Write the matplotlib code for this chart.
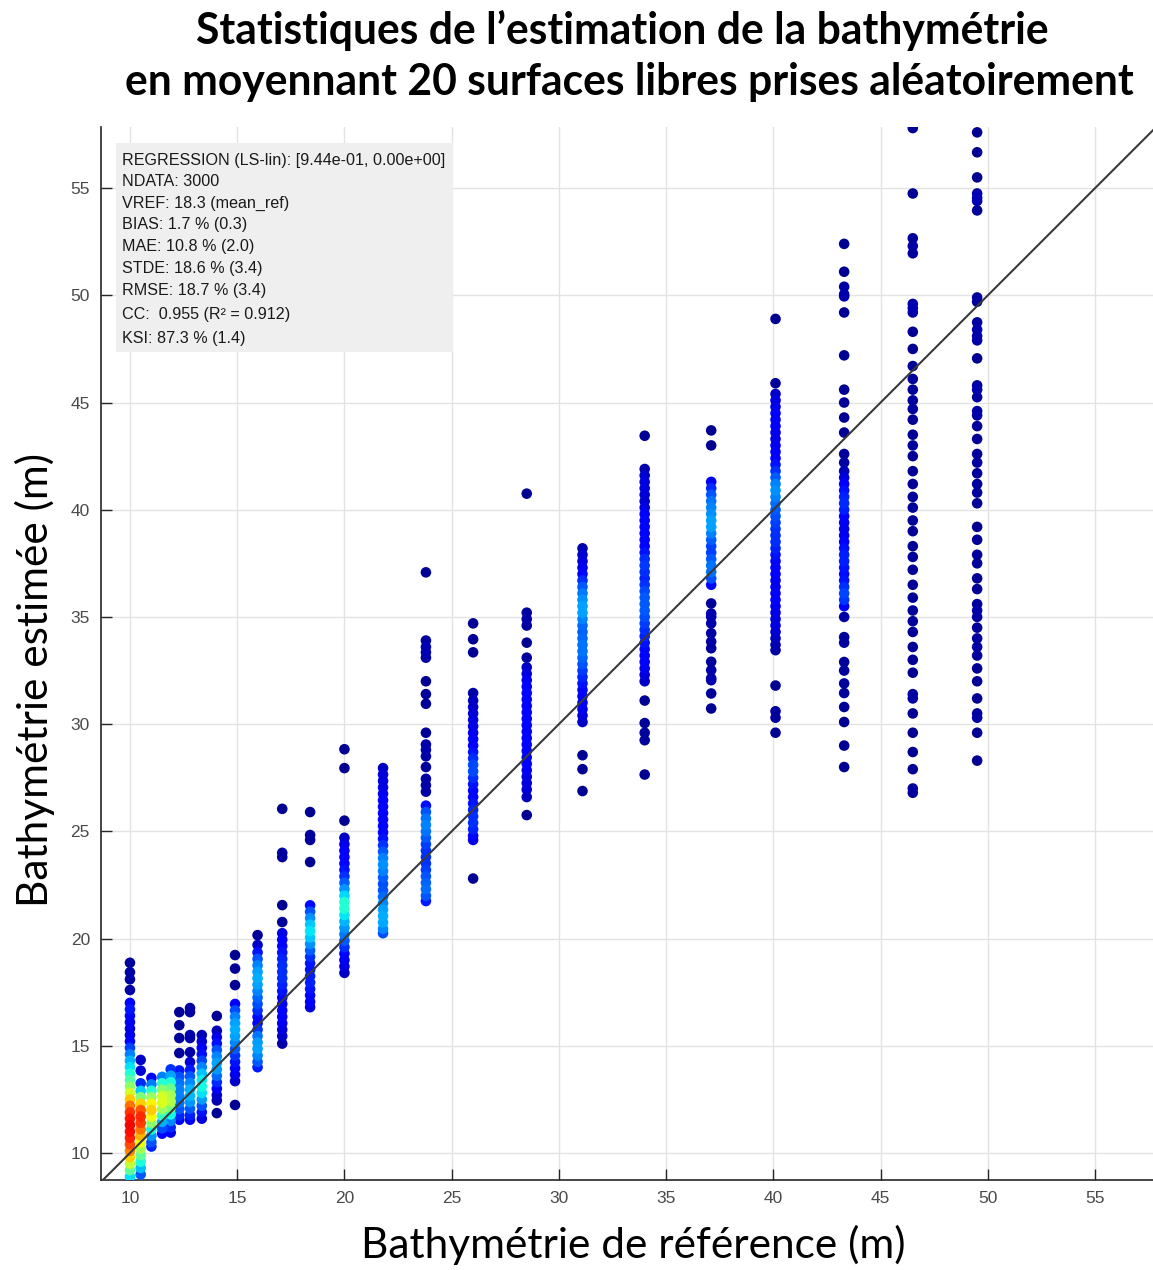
import numpy as np
import matplotlib.pyplot as plt
from matplotlib.patches import Rectangle

# bathymétrie de référence de chaque colonne (m)
ref_depth = [10.0, 10.5, 11.0, 11.5, 11.9, 12.3, 12.8, 13.35, 14.05, 14.9, 15.95,
             17.1, 18.4, 20.0, 21.8, 23.8, 26.0, 28.5, 31.1, 34.0, 37.1, 40.1,
             43.3, 46.5, 49.5]

# (bathymétrie estimée, nombre de tirages) pour chaque colonne
c_10_0 = [(18.87, 1), (18.43, 1), (18.1, 1), (17.6, 1), (17.0, 4), (16.7, 4), (16.4, 3),
          (16.1, 2), (15.8, 2), (15.5, 2), (15.2, 2), (14.9, 5), (14.6, 6), (14.3, 7),
          (14.0, 8), (13.7, 9), (13.4, 10), (13.1, 12), (12.8, 13), (12.5, 15), (12.2, 17),
          (11.9, 18), (11.6, 19), (11.3, 19), (11.0, 19), (10.7, 19), (10.4, 18), (10.1, 17),
          (9.8, 15), (9.5, 13), (9.2, 10), (8.9, 7), (8.7, 5)]
c_10_5 = [(14.34, 1), (13.84, 1), (13.25, 1), (12.9, 5), (12.6, 8), (12.3, 13), (12.0, 16),
          (11.7, 17), (11.4, 16), (11.1, 15), (10.8, 14), (10.5, 12), (10.2, 10), (9.9, 9),
          (9.6, 7), (9.3, 6), (9.0, 5)]
c_11_0 = [(13.5, 1), (13.2, 5), (12.9, 7), (12.6, 10), (12.3, 13), (12.0, 14), (11.7, 13),
          (11.4, 10), (11.1, 5), (10.8, 4), (10.5, 3), (10.3, 2)]
c_11_5 = [(13.55, 5), (13.25, 7), (12.95, 9), (12.65, 11), (12.35, 11), (12.05, 9),
          (11.75, 6), (11.45, 4), (11.15, 3), (10.9, 2)]
c_11_9 = [(13.9, 4), (13.6, 5), (13.3, 6), (13.0, 8), (12.7, 10), (12.4, 11), (12.1, 9),
          (11.8, 6), (11.5, 4), (11.2, 3), (10.95, 1)]
c_12_3 = [(16.57, 1), (15.96, 1), (15.36, 1), (14.66, 1), (13.85, 3), (13.55, 3), (13.25, 3),
          (12.95, 3), (12.65, 2), (12.35, 2), (12.05, 2), (11.75, 2), (11.55, 1)]
c_12_8 = [(16.76, 1), (16.57, 1), (15.5, 1), (15.36, 1), (14.7, 1), (14.24, 1), (13.87, 3),
          (13.57, 4), (13.27, 5), (12.97, 6), (12.67, 7), (12.37, 6), (12.07, 4), (11.77, 3),
          (11.55, 2)]
c_13_35 = [(15.5, 1), (15.2, 2), (14.9, 2), (14.6, 3), (14.3, 4), (14.0, 6), (13.7, 7),
           (13.4, 8), (13.1, 9), (12.8, 8), (12.5, 6), (12.2, 4), (11.9, 3), (11.6, 2)]
c_14_05 = [(16.39, 1), (15.7, 1), (15.4, 2), (15.1, 3), (14.8, 5), (14.5, 6), (14.2, 7),
           (13.9, 7), (13.6, 5), (13.3, 4), (13.0, 2), (12.7, 1), (12.45, 1), (11.86, 1)]
c_14_9 = [(19.23, 1), (18.6, 1), (17.83, 1), (16.95, 3), (16.65, 5), (16.35, 6), (16.05, 7),
          (15.75, 7), (15.45, 7), (15.15, 6), (14.85, 5), (14.55, 4), (14.25, 3), (13.95, 3),
          (13.65, 2), (13.35, 2), (12.24, 1)]
c_15_95 = [(20.16, 1), (19.7, 1), (19.35, 4), (19.05, 5), (18.75, 6), (18.45, 7), (18.15, 7),
           (17.85, 7), (17.55, 6), (17.25, 5), (16.95, 5), (16.65, 4), (16.35, 3), (16.05, 2),
           (15.75, 4), (15.45, 6), (15.15, 7), (14.85, 7), (14.55, 6), (14.25, 5), (14.0, 4)]
c_17_1 = [(26.05, 1), (24.0, 1), (23.8, 1), (21.56, 1), (20.77, 1), (20.25, 3), (19.95, 3),
          (19.65, 3), (19.35, 3), (19.05, 4), (18.75, 4), (18.45, 4), (18.15, 4), (17.85, 4),
          (17.55, 3), (17.25, 3), (16.95, 3), (16.65, 3), (16.35, 3), (16.05, 2), (15.75, 2),
          (15.45, 2), (15.1, 1)]
c_18_4 = [(25.9, 1), (24.83, 1), (24.6, 1), (23.57, 1), (21.55, 4), (21.25, 5), (20.95, 6),
          (20.65, 8), (20.35, 9), (20.05, 8), (19.75, 6), (19.45, 5), (19.15, 4), (18.85, 3),
          (18.55, 3), (18.25, 4), (17.95, 4), (17.65, 3), (17.35, 3), (17.05, 3), (16.8, 2)]
c_20_0 = [(28.83, 1), (27.95, 1), (25.5, 1), (24.7, 2), (24.4, 2), (24.1, 3), (23.8, 3),
          (23.5, 3), (23.2, 3), (22.9, 4), (22.6, 5), (22.3, 6), (22.0, 8), (21.7, 10),
          (21.4, 10), (21.1, 8), (20.8, 7), (20.5, 6), (20.2, 6), (19.9, 5), (19.6, 4),
          (19.3, 3), (19.0, 2), (18.7, 2), (18.4, 2)]
c_21_8 = [(27.95, 2), (27.65, 2), (27.35, 2), (27.05, 2), (26.75, 2), (26.45, 3), (26.15, 3),
          (25.85, 3), (25.55, 3), (25.25, 3), (24.95, 3), (24.65, 3), (24.35, 4), (24.05, 5),
          (23.75, 6), (23.45, 7), (23.15, 6), (22.85, 5), (22.55, 4), (22.25, 5), (21.95, 5),
          (21.65, 6), (21.35, 7), (21.05, 7), (20.75, 7), (20.45, 6), (20.25, 5)]
c_23_8 = [(37.08, 1), (33.9, 1), (33.6, 1), (33.35, 1), (33.1, 1), (32.0, 1), (31.4, 1),
          (30.95, 1), (29.6, 1), (29.05, 1), (28.8, 1), (28.5, 1), (28.0, 1), (27.45, 1),
          (27.15, 1), (26.85, 1), (26.2, 4), (25.9, 5), (25.6, 6), (25.3, 6), (25.0, 6),
          (24.7, 5), (24.4, 4), (24.1, 4), (23.8, 4), (23.5, 4), (23.2, 4), (22.9, 5),
          (22.6, 5), (22.3, 6), (22.0, 5), (21.75, 4)]
c_26_0 = [(34.7, 1), (33.96, 1), (33.35, 1), (31.45, 1), (31.1, 2), (30.8, 1), (30.5, 2),
          (30.2, 2), (29.9, 2), (29.6, 2), (29.3, 3), (29.0, 3), (28.7, 3), (28.4, 4),
          (28.1, 5), (27.8, 5), (27.5, 4), (27.2, 3), (26.9, 3), (26.6, 3), (26.3, 3),
          (26.0, 4), (25.7, 4), (25.4, 4), (25.1, 4), (24.8, 3), (24.6, 2), (22.8, 1)]
c_28_5 = [(40.75, 1), (35.2, 1), (34.9, 1), (34.6, 1), (33.8, 1), (33.1, 1), (32.65, 2),
          (32.35, 2), (32.05, 2), (31.75, 3), (31.45, 3), (31.15, 3), (30.85, 3), (30.55, 3),
          (30.25, 3), (29.95, 3), (29.65, 3), (29.35, 3), (29.05, 3), (28.75, 3), (28.45, 3),
          (28.15, 3), (27.85, 2), (27.55, 2), (27.25, 2), (26.95, 2), (26.6, 2), (25.76, 1)]
c_31_1 = [(38.2, 1), (37.9, 2), (37.6, 2), (37.3, 2), (37.0, 3), (36.7, 4), (36.4, 5),
          (36.1, 6), (35.8, 6), (35.5, 7), (35.2, 7), (34.9, 6), (34.6, 5), (34.3, 5),
          (34.0, 5), (33.7, 6), (33.4, 6), (33.1, 5), (32.8, 5), (32.5, 4), (32.2, 4),
          (31.9, 3), (31.6, 3), (31.3, 3), (31.0, 3), (30.7, 2), (30.4, 2), (30.1, 2),
          (28.55, 1), (27.9, 1), (26.88, 1)]
c_34_0 = [(43.45, 1), (41.9, 1), (41.6, 2), (41.3, 2), (41.0, 2), (40.7, 2), (40.4, 1),
          (40.1, 2), (39.8, 3), (39.5, 3), (39.2, 3), (38.9, 3), (38.6, 3), (38.3, 3),
          (38.0, 3), (37.7, 4), (37.4, 5), (37.1, 4), (36.8, 3), (36.5, 4), (36.2, 5),
          (35.9, 5), (35.6, 5), (35.3, 5), (35.0, 5), (34.7, 4), (34.4, 4), (34.1, 4),
          (33.8, 3), (33.5, 3), (33.2, 3), (32.9, 3), (32.6, 2), (32.3, 2), (32.0, 2),
          (31.1, 1), (30.05, 1), (29.6, 1), (29.25, 1), (27.65, 1)]
c_37_1 = [(43.7, 1), (43.0, 1), (41.3, 3), (41.0, 4), (40.7, 5), (40.4, 6), (40.1, 6),
          (39.8, 6), (39.5, 7), (39.2, 7), (38.9, 6), (38.6, 5), (38.3, 4), (38.0, 4),
          (37.7, 5), (37.4, 6), (37.1, 6), (36.8, 5), (36.5, 4), (35.63, 1), (35.16, 1),
          (35.01, 1), (34.7, 1), (34.24, 1), (33.85, 1), (33.54, 1), (32.91, 1), (32.52, 1),
          (32.14, 1), (32.05, 1), (31.43, 1), (30.73, 1)]
c_40_1 = [(48.9, 1), (45.9, 1), (45.4, 2), (45.1, 2), (44.8, 2), (44.5, 3), (44.2, 3),
          (43.9, 3), (43.6, 2), (43.3, 2), (43.0, 2), (42.7, 3), (42.4, 3), (42.1, 3),
          (41.8, 4), (41.5, 5), (41.2, 6), (40.9, 7), (40.6, 6), (40.3, 5), (40.0, 5),
          (39.7, 5), (39.4, 4), (39.1, 4), (38.8, 4), (38.5, 4), (38.2, 4), (37.9, 3),
          (37.6, 3), (37.3, 3), (37.0, 3), (36.7, 2), (36.4, 2), (36.1, 3), (35.8, 3),
          (35.5, 2), (35.2, 2), (34.9, 2), (34.6, 2), (34.3, 2), (34.0, 1), (33.7, 1),
          (33.45, 1), (31.8, 1), (30.6, 1), (30.3, 1), (29.6, 1)]
c_43_3 = [(52.4, 1), (51.1, 1), (50.4, 1), (50.05, 1), (49.95, 1), (49.2, 1), (47.2, 1),
          (45.6, 1), (45.0, 1), (44.3, 1), (43.6, 1), (42.6, 1), (42.2, 1), (41.8, 1),
          (41.5, 2), (41.2, 3), (40.9, 3), (40.6, 4), (40.3, 4), (40.0, 4), (39.7, 3),
          (39.4, 2), (39.1, 2), (38.8, 2), (38.5, 3), (38.2, 3), (37.9, 4), (37.6, 4),
          (37.3, 3), (37.0, 3), (36.7, 3), (36.4, 4), (36.1, 5), (35.8, 5), (35.5, 3),
          (35.0, 1), (34.06, 1), (33.8, 1), (32.9, 1), (32.5, 1), (31.9, 1), (31.45, 1),
          (30.8, 1), (30.1, 1), (29.0, 1), (28.0, 1)]
c_46_5 = [(57.8, 1), (54.75, 1), (52.66, 1), (52.3, 1), (51.96, 1), (49.6, 1), (49.4, 1),
          (49.2, 1), (48.3, 1), (47.5, 1), (46.7, 1), (46.1, 1), (45.6, 1), (45.1, 1),
          (44.7, 1), (44.2, 1), (43.5, 1), (43.0, 1), (42.5, 1), (41.8, 1), (41.2, 1),
          (40.6, 1), (40.1, 1), (39.5, 1), (39.0, 1), (38.3, 1), (37.8, 1), (37.2, 1),
          (36.5, 1), (35.9, 1), (35.3, 1), (34.8, 1), (34.3, 1), (33.6, 1), (33.0, 1),
          (32.4, 1), (31.4, 1), (31.2, 1), (30.5, 1), (29.6, 1), (28.7, 1), (27.9, 1),
          (27.0, 1), (26.8, 1)]
c_49_5 = [(57.6, 1), (56.67, 1), (55.5, 1), (54.75, 1), (54.55, 1), (54.4, 1), (53.96, 1),
          (49.9, 1), (49.7, 1), (48.74, 1), (48.4, 1), (48.1, 1), (47.9, 1), (47.06, 1),
          (45.8, 1), (45.6, 1), (45.25, 1), (44.6, 1), (44.4, 1), (43.9, 1), (43.3, 1),
          (42.6, 1), (42.2, 1), (41.7, 1), (41.2, 1), (40.8, 1), (40.3, 1), (39.2, 1),
          (38.6, 1), (37.9, 1), (37.5, 1), (36.8, 1), (36.3, 1), (35.6, 1), (35.3, 1),
          (35.0, 1), (34.5, 1), (34.0, 1), (33.6, 1), (33.2, 1), (32.6, 1), (32.0, 1),
          (31.2, 1), (30.5, 1), (30.3, 1), (29.6, 1), (28.3, 1)]

columns = [c_10_0, c_10_5, c_11_0, c_11_5, c_11_9, c_12_3, c_12_8, c_13_35, c_14_05,
           c_14_9, c_15_95, c_17_1, c_18_4, c_20_0, c_21_8, c_23_8, c_26_0, c_28_5,
           c_31_1, c_34_0, c_37_1, c_40_1, c_43_3, c_46_5, c_49_5]

stats_lines = ["REGRESSION (LS-lin): [9.44e-01, 0.00e+00]",
               "NDATA: 3000",
               "VREF: 18.3 (mean_ref)",
               "BIAS: 1.7 % (0.3)",
               "MAE: 10.8 % (2.0)",
               "STDE: 18.6 % (3.4)",
               "RMSE: 18.7 % (3.4)",
               "CC:  0.955 (R² = 0.912)",
               "KSI: 87.3 % (1.4)"]

xticks = [10, 15, 20, 25, 30, 35, 40, 45, 50, 55]
yticks = [10, 15, 20, 25, 30, 35, 40, 45, 50, 55]

x, y, w = [], [], []
for xr, col in zip(ref_depth, columns):
    for ye, n in col:
        x.append(xr)
        y.append(ye)
        w.append(n)
x = np.array(x)
y = np.array(y)
w = np.array(w, dtype=float)

# densité locale (noyau gaussien pondéré par le nombre de tirages)
sx, sy = 0.25, 0.3
dx = (x[:, None] - x[None, :]) / sx
dy = (y[:, None] - y[None, :]) / sy
dens = (w[None, :] * np.exp(-0.5 * (dx**2 + dy**2))).sum(axis=1)
cval = 0.9 * dens / dens.max()
order = np.argsort(cval)

fig = plt.figure(figsize=(11.53, 12.70), dpi=100)
ax = fig.add_axes([101 / 1153, 1 - 1180 / 1270, 1052 / 1153, 1053 / 1270])

ax.scatter(x[order], y[order], c=cval[order], cmap='jet', vmin=0, vmax=1,
           s=58, linewidths=0, zorder=3)
ax.plot([0, 100], [0, 100], color='#3a3a3a', lw=1.5, zorder=4)

ax.set_xlim(8.65, 57.7)
ax.set_ylim(8.74, 57.85)
ax.set_xticks(xticks)
ax.set_yticks(yticks)
ax.grid(True, color='#e3e3e3', lw=1.0, zorder=0)
ax.set_axisbelow(True)
for s in ['top', 'right']:
    ax.spines[s].set_visible(False)
for s in ['left', 'bottom']:
    ax.spines[s].set_color('#262626')
    ax.spines[s].set_linewidth(1.2)
ax.tick_params(direction='in', length=8, width=1, colors='#262626',
               labelcolor='#4a4a4a', labelsize=12.5, pad=8)
for lab in ax.get_xticklabels() + ax.get_yticklabels():
    lab.set_family('Liberation Sans')

# encadré des statistiques
ax.add_patch(Rectangle((0.0143, 0.7863), 0.3203, 0.1985, transform=ax.transAxes,
                       facecolor='#efefef', edgecolor='none', zorder=5))
ys = [160, 181, 203, 225, 247, 268, 291, 315, 338]
for line, py in zip(stats_lines, ys):
    ax.text((122 - 101) / 1052, 1 - (py - 127) / 1053, line, transform=ax.transAxes,
            family='Liberation Sans', fontsize=11.6, color='#1a1a1a', va='center',
            ha='left', zorder=6)

fig.text(622 / 1153, 1 - 30 / 1270, "Statistiques de l’estimation de la bathymétrie",
         ha='center', va='center', family='Lato', weight='bold', fontsize=30.7)
fig.text(629 / 1153, 1 - 82 / 1270, "en moyennant 20 surfaces libres prises aléatoirement",
         ha='center', va='center', family='Lato', weight='bold', fontsize=30.7)
fig.text(35 / 1153, 1 - 680 / 1270, "Bathymétrie estimée (m)", rotation=90,
         ha='center', va='center', family='Lato', fontsize=30.5)
fig.text(633 / 1153, 1 - 1245 / 1270, "Bathymétrie de référence (m)",
         ha='center', va='center', family='Lato', fontsize=30.5)

fig.savefig('out.png', dpi=100)
